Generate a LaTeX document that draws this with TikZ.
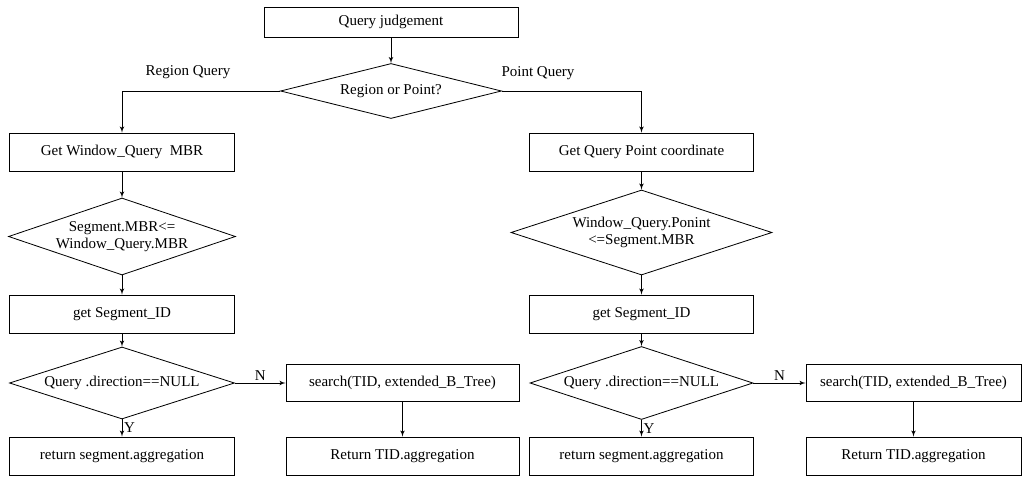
\documentclass[tikz,border=0pt]{standalone}
\usepackage{fontspec}
\setmainfont{Liberation Serif}
\usepackage{tikz}
\usetikzlibrary{arrows}
\usetikzlibrary{shapes.geometric}
\usetikzlibrary{positioning}
\tikzset{box/.style = {draw, rectangle, inner sep = 0, minimum height = 1.14cm}}
\tikzset{decision/.style = {draw, diamond, aspect = 3, inner sep = 0, align = center}}
\tikzset{flow/.style = {->, >=latex', line width = 0.8pt}}
\tikzset{lbl/.style = {inner sep = 1.5pt}}

\begin{document}
\begin{tikzpicture}[x = 0.03cm, y = -0.03cm, line width = 0.7pt,
                    font = \fontsize{12.8}{14}\selectfont]
    \useasboundingbox (0, 0) rectangle (1025, 477);

    \node [box, minimum width = 7.62cm, minimum height = 0.9cm] (judge) at (391, 22) {Query judgement};
    \node [decision, minimum width = 6.63cm, minimum height = 1.65cm] (which) at (391, 91) {Region or Point?};
    \node at (188, 72) (regionlbl) {Region Query};
    \node at (538, 73) (pointlbl) {Point Query};

    \node [box, minimum width = 6.75cm] (getmbr) at (122, 152) {Get Window\_Query\ \ MBR};
    \node [decision, minimum width = 6.81cm, minimum height = 2.31cm] (segin) at (122, 236.5) {Segment.MBR<=\\Window\_Query.MBR};
    \node [box, minimum width = 6.75cm] (segidl) at (122, 314) {get Segment\_ID};
    \node [decision, minimum width = 6.75cm, minimum height = 2.16cm] (dirl) at (122, 383) {Query .direction==NULL};
    \node [box, minimum width = 6.75cm] (retl) at (122, 456) {return segment.aggregation};
    \node [box, minimum width = 6.99cm, minimum height = 1.11cm] (searchl) at (402.5, 383) {search(TID, extended\_B\_Tree)};
    \node [box, minimum width = 6.99cm] (tidl) at (402.5, 456) {Return TID.aggregation};

    \node [box, minimum width = 6.72cm] (getpt) at (641.5, 152) {Get Query Point coordinate};
    \node [decision, minimum width = 7.83cm, minimum height = 2.55cm] (ptin) at (641.5, 232.5) {Window\_Query.Ponint\\<=Segment.MBR};
    \node [box, minimum width = 6.72cm] (segidr) at (641.5, 314) {get Segment\_ID};
    \node [decision, minimum width = 6.69cm, minimum height = 2.19cm] (dirr) at (641.5, 383) {Query .direction==NULL};
    \node [box, minimum width = 6.72cm] (retr) at (641.5, 456) {return segment.aggregation};
    \node [box, minimum width = 6.45cm, minimum height = 1.11cm] (searchr) at (913.5, 383) {search(TID, extended\_B\_Tree)};
    \node [box, minimum width = 6.45cm] (tidr) at (913.5, 456) {Return TID.aggregation};

    \draw [flow] (judge) -- (which);
    \draw [flow] (which.west) -| (getmbr.north);
    \draw [flow] (which.east) -| (getpt.north);

    \draw [flow] (getmbr) -- (segin);
    \draw [flow] (segin) -- (segidl);
    \draw [flow] (segidl) -- (dirl);
    \draw [flow] (dirl) -- node [lbl, right] {Y} (retl);
    \draw [flow] (dirl) -- node [lbl, above] {N} (searchl);
    \draw [flow] (searchl) -- (tidl);

    \draw [flow] (getpt) -- (ptin);
    \draw [flow] (ptin) -- (segidr);
    \draw [flow] (segidr) -- (dirr);
    \draw [flow] (dirr) -- node [lbl, right] {Y} (retr);
    \draw [flow] (dirr) -- node [lbl, above] {N} (searchr);
    \draw [flow] (searchr) -- (tidr);
\end{tikzpicture}
\end{document}
